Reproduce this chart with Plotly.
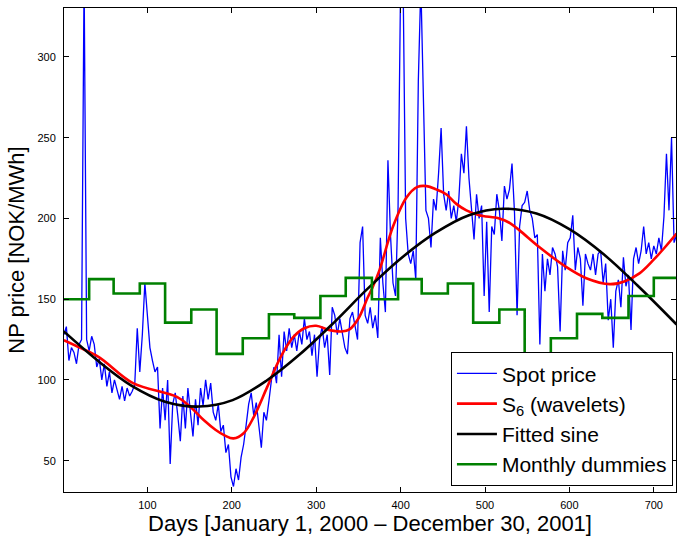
import numpy as np
import pandas as pd
import plotly.graph_objects as go

# ---------------- data ----------------
spot_days = list(range(1, 728, 3))
spot_price = [
    128, 133, 112, 120, 117, 110, 122, 125, 350, 125, 118, 127, 122, 108, 113,
    100, 110, 96, 105, 92, 100, 93, 88, 96, 87, 95, 90, 93, 97, 132,
    105, 128, 160, 140, 120, 112, 105, 108, 70, 95, 75, 100, 48, 85, 92,
    78, 62, 90, 70, 95, 80, 65, 88, 72, 95, 84, 100, 88, 98, 80,
    75, 85, 68, 72, 55, 60, 40, 34, 45, 38, 52, 60, 72, 85, 92,
    78, 86, 72, 58, 80, 75, 87, 100, 108, 98, 128, 102, 130, 118, 132,
    120, 128, 118, 130, 122, 138, 125, 130, 115, 128, 102, 125, 133, 120, 128,
    103, 145, 140, 128, 138, 130, 120, 116, 138, 142, 133, 125, 185, 195, 140,
    135, 145, 132, 140, 126, 188, 160, 142, 236, 190, 160, 152, 207, 345, 345,
    200, 178, 172, 180, 162, 285, 345, 275, 205, 200, 182, 212, 205, 228, 256,
    215, 205, 217, 200, 208, 198, 212, 240, 228, 257, 225, 205, 187, 215, 200,
    208, 152, 198, 142, 195, 190, 215, 205, 186, 220, 212, 218, 234, 203, 140,
    195, 208, 210, 217, 205, 200, 188, 190, 122, 178, 155, 175, 165, 182, 178,
    170, 130, 180, 168, 185, 188, 202, 168, 182, 175, 146, 178, 172, 168, 178,
    165, 178, 180, 160, 172, 137, 150, 120, 155, 162, 145, 176, 158, 165, 131,
    175, 182, 172, 180, 195, 178, 185, 175, 183, 178, 188, 180, 201, 240, 205,
    250, 185, 190,
]

# S6 wavelet smooth
s6_days = [1, 20, 43, 83, 135, 151, 167, 181, 192, 202, 214, 226, 242, 258, 273,
           286, 300, 315, 330, 340, 350, 361, 367, 375, 391, 407, 420, 431, 442,
           454, 466, 478, 493, 517, 530, 541, 565, 596, 620, 648, 665, 683, 699,
           713, 727]
s6_vals = [124.6, 120, 114, 98, 89.5, 83.3, 75, 69, 65.5, 63.8, 67, 77, 95.7, 114.3, 126.6,
           132, 133.5, 131, 130, 131.5, 138, 151, 157.6, 168, 195, 213, 219.5, 220, 218,
           215, 209, 205, 202, 200, 197, 192.6, 182, 170, 163, 159.3, 161, 166, 174,
           182, 190.6]

# Fitted sine
sine_days = [1, 41, 81, 121, 161, 201, 241, 281, 321, 361, 401, 441, 481, 521,
             561, 601, 641, 681, 727]
sine_vals = [130, 112, 96.5, 86.5, 83.5, 87.5, 99.5, 116, 135.5, 156.5, 175.5, 191,
             202, 206, 203, 193, 177.6, 158.3, 134.3]

# Monthly dummies (Jan 2000 ... Dec 2001)
month_starts = pd.date_range("2000-01-01", "2001-12-01", freq="MS")
monthly_vals = [150, 162.4, 153.5, 159.7, 135.5, 143.6, 116.1, 125.8, 140.7, 138.4, 152, 163.2,
                150, 162.4, 153.5, 159.7, 135.5, 143.6, 116.1, 125.8, 140.9, 138.4, 152, 163.2]

x_ticks = [100, 200, 300, 400, 500, 600, 700]
y_ticks = [50, 100, 150, 200, 250, 300]

# ---------------- figure ----------------
origin = pd.Timestamp("2000-01-01")
md_days = [(d - origin).days for d in month_starts] + [731]
md_vals = monthly_vals + [monthly_vals[-1]]

FONT = "Arial, Liberation Sans, Helvetica, sans-serif"

fig = go.Figure()
fig.add_trace(go.Scatter(x=spot_days, y=spot_price, mode="lines", name="Spot price",
                         line=dict(color="#0000ff", width=1.3)))
fig.add_trace(go.Scatter(x=s6_days, y=s6_vals, mode="lines", name="S<sub>6</sub> (wavelets)",
                         line=dict(color="#ff0000", width=2.6, shape="spline", smoothing=1.0)))
fig.add_trace(go.Scatter(x=sine_days, y=sine_vals, mode="lines", name="Fitted sine",
                         line=dict(color="#000000", width=2.6, shape="spline", smoothing=1.0)))
fig.add_trace(go.Scatter(x=md_days, y=md_vals, mode="lines", name="Monthly dummies",
                         line=dict(color="#008000", width=2.6, shape="hv")))

axis_common = dict(showline=True, linecolor="black", linewidth=1, mirror="ticks",
                   ticks="inside", ticklen=5, tickcolor="black", showgrid=False,
                   zeroline=False, tickfont=dict(size=11, color="black", family=FONT))

fig.update_layout(
    width=677, height=536,
    margin=dict(l=64, r=1, t=8, b=44),
    paper_bgcolor="white", plot_bgcolor="white",
    font=dict(family=FONT, color="black"),
    xaxis=dict(range=[1.2, 726.3], tickvals=x_ticks, ticklabelstandoff=3,
               title=dict(text="Days [January 1, 2000 \u2013 December 30, 2001]",
                          font=dict(size=22), standoff=2),
               **axis_common),
    yaxis=dict(range=[30.6, 330.3], tickvals=y_ticks, ticklabelstandoff=5,
               title=dict(text="NP price [NOK/MWh]", font=dict(size=22), standoff=6),
               **axis_common),
    legend=dict(x=0.995, y=0.012, xanchor="right", yanchor="bottom",
                bgcolor="white", bordercolor="black", borderwidth=1,
                font=dict(size=21, family=FONT), tracegroupgap=0,
                itemwidth=40),
    showlegend=True,
)

fig.write_html("out.html", config={"displayModeBar": False},
               post_script="document.body.style.margin='0px';")
